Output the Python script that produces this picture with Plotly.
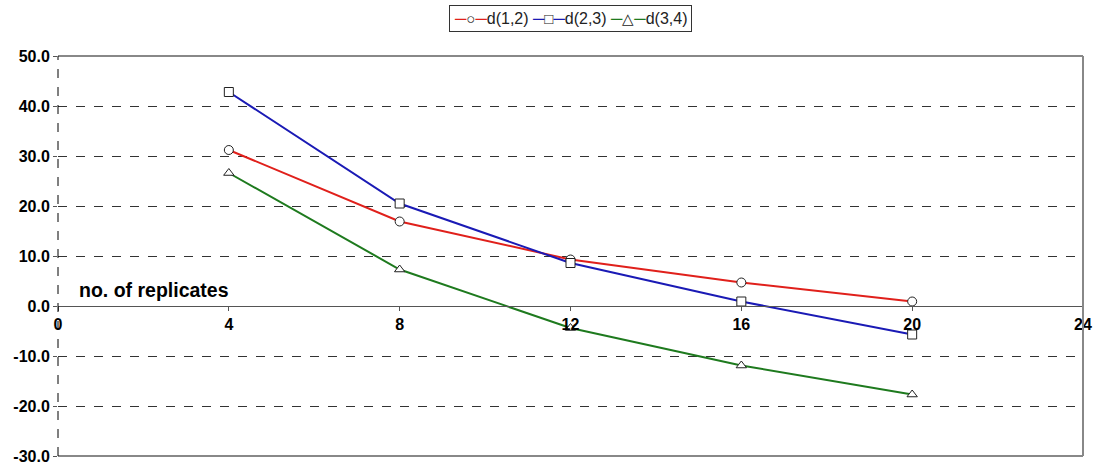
import plotly.graph_objects as go

replicates = [4, 8, 12, 16, 20]
d12 = [31.2, 16.9, 9.3, 4.7, 0.9]
d23 = [42.8, 20.5, 8.6, 0.9, -5.7]
d34 = [26.6, 7.3, -4.4, -11.9, -17.7]
x_ticks = [0, 4, 8, 12, 16, 20, 24]
y_ticks = [-30, -20, -10, 0, 10, 20, 30, 40, 50]

FAM = "Liberation Sans, Arial, sans-serif"

fig = go.Figure()
series = [("d(1,2)", d12, "#E0201B", "circle", "○"),
          ("d(2,3)", d23, "#1A1AB5", "square", "□"),
          ("d(3,4)", d34, "#1E7A1E", "triangle-up", "△")]
legend_parts = []
for name, vals, col, sym, glyph in series:
    fig.add_trace(go.Scatter(
        x=replicates, y=vals, name=name, mode="lines+markers",
        line=dict(color=col, width=2),
        marker=dict(symbol=sym, size=9, color="white",
                    line=dict(color="#222222", width=1)),
        showlegend=False,
    ))
    legend_parts.append(
        f"<span style='color:{col}'>─</span><span style='font-size:15px'>{glyph}</span>"
        f"<span style='color:{col}'>─</span>{name}")

fig.update_layout(
    width=1096, height=467,
    margin=dict(l=58, r=13, t=56, b=11, autoexpand=False),
    paper_bgcolor="white", plot_bgcolor="white",
    xaxis=dict(range=[0, 24], tickvals=x_ticks, ticktext=[str(v) for v in x_ticks],
               anchor="free", position=0.375, showgrid=False, zeroline=False,
               showline=True, linecolor="#555555", linewidth=1, automargin=False,
               ticks="outside", ticklen=4, tickcolor="#555555",
               tickfont=dict(family=FAM, size=16, color="black", weight="bold")),
    yaxis=dict(range=[-30, 50], tickvals=y_ticks, ticktext=[f"{v:.1f}" for v in y_ticks],
               showgrid=True, gridcolor="#333333", griddash="dash", gridwidth=1,
               zeroline=False, showline=False, automargin=False,
               ticks="outside", ticklen=4, tickcolor="#555555",
               tickfont=dict(family=FAM, size=16, color="black", weight="bold")),
    shapes=[
        dict(type="line", xref="paper", yref="paper", x0=0, x1=1, y0=1, y1=1,
             line=dict(color="#888888", width=2)),
        dict(type="line", xref="paper", yref="paper", x0=1, x1=1, y0=0, y1=1,
             line=dict(color="#888888", width=2)),
        dict(type="line", xref="paper", yref="paper", x0=0, x1=1, y0=0, y1=0,
             line=dict(color="#888888", width=2)),
        dict(type="line", xref="paper", yref="paper", x0=0, x1=0, y0=0, y1=1,
             line=dict(color="black", width=1, dash="dash")),
    ],
    annotations=[
        dict(text="no. of replicates", x=0.45, y=0.6, xref="x", yref="y",
             xanchor="left", yanchor="bottom", showarrow=False,
             font=dict(family=FAM, size=19.5, color="black", weight="bold")),
        dict(text=" ".join(legend_parts), x=0.5, y=1.0925, xref="paper", yref="paper",
             xanchor="center", yanchor="middle", showarrow=False,
             bordercolor="#333333", borderwidth=1, borderpad=4, bgcolor="white",
             font=dict(family=FAM, size=16, color="#222222")),
    ],
)
fig.write_html("out.html", config={"displayModeBar": False},
               post_script="document.body.style.margin='0';")
